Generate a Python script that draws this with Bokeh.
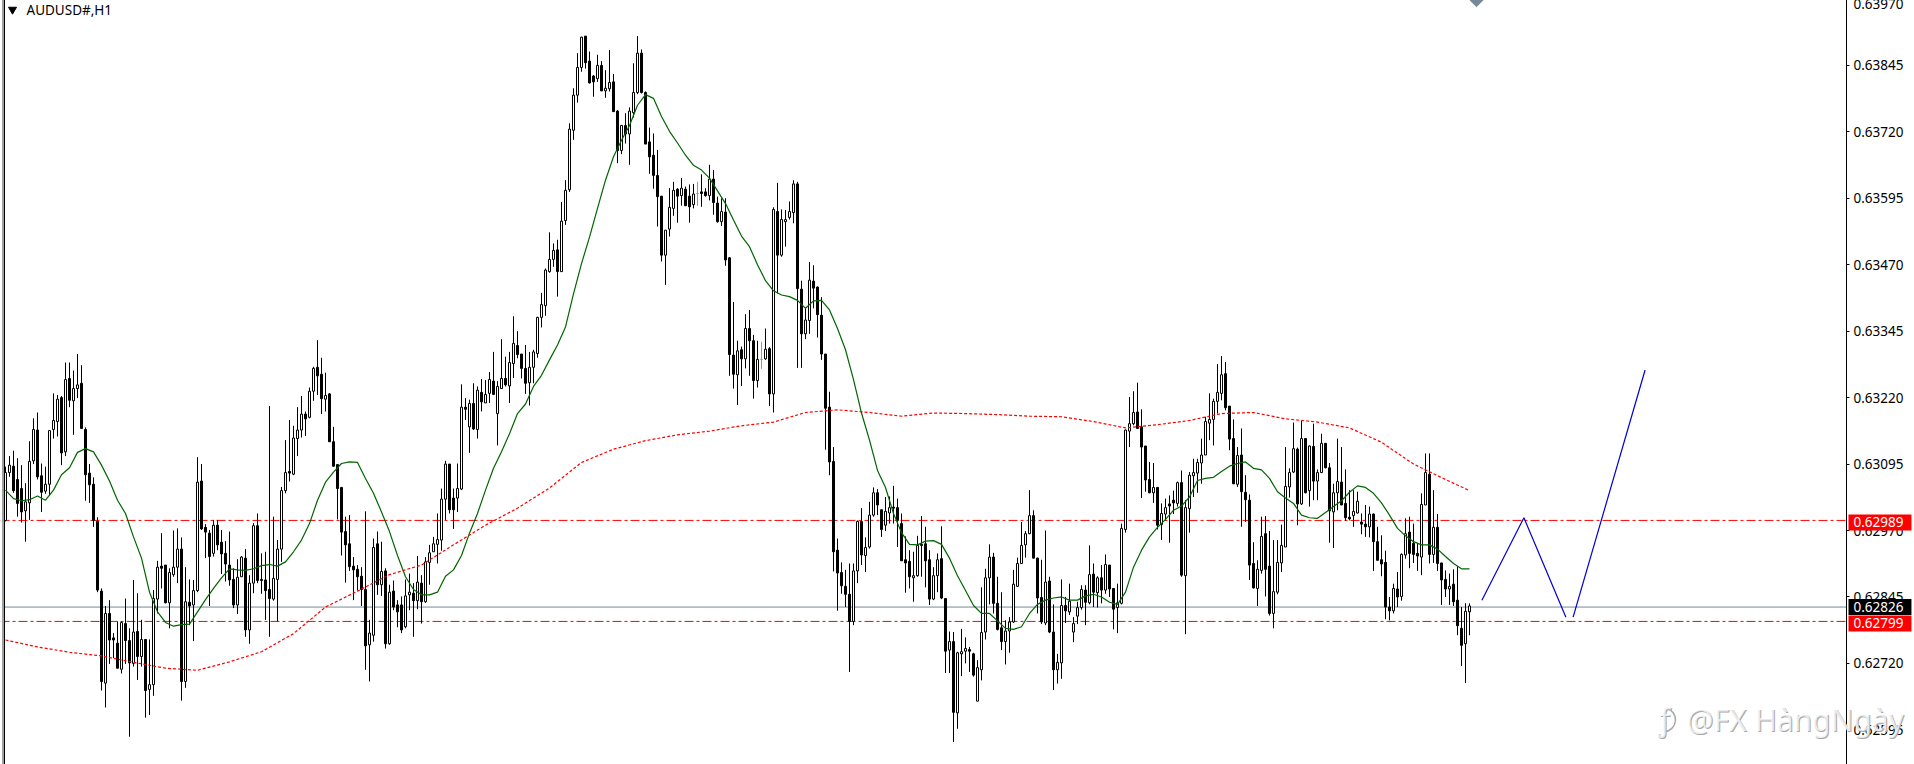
from bokeh.plotting import figure
from bokeh.layouts import column
from bokeh.models import ColumnDataSource, Range1d, FixedTicker, Span, Label, BoxAnnotation
from bokeh.embed import file_html
from bokeh.resources import INLINE

SYMBOL = "AUDUSD#,H1"
WATERMARK = "@FX HàngNgày"
POINT = 100000.0
tick_prices = [63970, 63845, 63720, 63595, 63470, 63345, 63220, 63095, 62970, 62845, 62720, 62595]
level_upper = 62989
level_lower = 62799
last_price = 62826

highs = [
63090,63110,63120,63106,63093,63059,63138,63181,63192,63096,
63090,63159,63228,63225,63223,63286,63286,63271,63302,63281,
63164,63095,63070,62995,62861,62828,62839,62777,62799,62799,
62842,62786,62877,62852,62802,62765,62765,62858,62913,62965,
62905,62899,62970,62974,62957,62901,62878,62877,63108,63095,
62982,62971,62990,62990,62971,62950,62968,62899,62916,62922,
62935,62886,62984,63002,62927,62930,63204,62996,62952,63052,
63140,63178,63167,63202,63223,63194,63239,63278,63328,63295,
63267,63228,63165,63095,63052,62996,62999,62920,62905,62901,
63006,62802,62955,62968,62949,62899,62868,62876,62839,62846,
62878,62889,62871,62922,62886,62920,62943,62958,63002,63049,
63101,63095,63049,63096,63245,63219,63216,63247,63241,63255,
63253,63268,63306,63251,63330,63297,63306,63373,63345,63302,
63319,63306,63310,63372,63417,63463,63531,63510,63517,63588,
63629,63736,63802,63868,63899,63900,63871,63827,63865,63853,
63836,63874,63829,63761,63733,63755,63766,63849,63900,63875,
63796,63728,63717,63686,63599,63535,63614,63626,63614,63633,
63617,63621,63622,63626,63640,63614,63658,63648,63598,63595,
63595,63484,63400,63327,63316,63377,63385,63338,63327,63325,
63350,63315,63578,63624,63574,63573,63589,63629,63626,63440,
63388,63475,63469,63429,63409,63302,63231,63127,62955,62910,
62896,62908,62908,62989,63012,62957,63024,63051,63048,63009,
63033,63034,63054,63030,63002,62959,62933,62930,62960,62997,
62977,62933,62901,62927,62978,62843,62780,62779,62742,62785,
62769,62751,62740,62726,62863,62898,62944,62928,62883,62854,
62801,62807,62896,62919,62986,62969,63046,63008,62919,62915,
62970,62883,62831,62738,62878,62845,62870,62807,62836,62867,
62867,62942,62908,62884,62905,62925,62905,62861,62870,62983,
63160,63221,63232,63248,63198,63129,63099,63097,63052,63021,
63030,63036,63045,63062,63083,63027,63080,63105,63105,63143,
63184,63228,63218,63283,63298,63287,63204,63179,63127,63162,
63074,63038,62948,62914,62996,62997,62969,62952,62952,62981,
63127,63087,63173,63126,63176,63144,63130,63171,63085,63152,
63134,63097,63058,63143,63127,63085,63046,63046,63043,63002,
63018,63015,63002,62977,62961,62932,62845,62870,62892,62927,
62993,62996,62983,62946,63040,63115,63115,63046,63001,62909,
62895,62889,62897,62903,62826,62833,62833]

lows = [
62987,63071,63041,62996,62985,62949,62990,63095,63066,63005,
63039,63036,63143,63147,63093,63110,63202,63150,63219,63162,
63026,63022,62977,62854,62669,62637,62719,62730,62711,62701,
62719,62582,62714,62689,62714,62618,62623,62659,62814,62861,
62833,62786,62883,62871,62650,62674,62792,62762,62854,62971,
62918,62828,62921,62933,62888,62874,62866,62824,62813,62883,
62770,62757,62852,62871,62851,62802,62770,62838,62799,62911,
63040,63062,63074,63110,63145,63148,63181,63214,63225,63189,
63194,63137,63090,62991,62923,62872,62894,62839,62857,62828,
62708,62686,62761,62849,62847,62748,62755,62820,62788,62777,
62786,62820,62770,62822,62795,62834,62868,62930,62908,62932,
62990,63002,62973,63005,63046,63178,63116,63159,63143,63194,
63210,63210,63226,63130,63237,63241,63210,63257,63294,63256,
63227,63205,63247,63295,63352,63374,63455,63466,63410,63457,
63545,63607,63705,63775,63833,63839,63811,63786,63814,63797,
63784,63796,63758,63661,63678,63698,63658,63747,63791,63792,
63697,63641,63613,63542,63476,63432,63523,63562,63549,63581,
63581,63549,63576,63581,63579,63598,63591,63564,63549,63543,
63468,63261,63237,63206,63242,63275,63261,63218,63239,63274,
63291,63204,63192,63416,63485,63504,63555,63548,63276,63276,
63330,63340,63388,63333,63291,63122,63074,62893,62819,62851,
62826,62704,62792,62871,62905,62892,62936,62996,62999,62958,
62969,62983,62983,62939,62913,62853,62861,62836,62883,62883,
62863,62830,62839,62854,62841,62702,62702,62572,62597,62696,
62720,62704,62695,62649,62688,62765,62831,62814,62782,62745,
62718,62740,62796,62864,62908,62919,62963,62918,62814,62794,
62792,62777,62670,62682,62691,62796,62811,62760,62794,62821,
62792,62831,62826,62825,62833,62851,62845,62784,62777,62831,
62966,63127,63168,63162,63031,63043,63040,63022,62972,62952,
62989,62947,63001,63015,62883,62775,62966,63033,63041,63058,
63112,63140,63130,63190,63215,63196,63121,63057,63052,62977,
62986,62877,62861,62828,62889,62846,62810,62786,62850,62892,
62939,63032,63078,62980,63018,63040,63015,63027,63027,63078,
63087,62947,62937,63008,63018,62988,62989,62977,63002,62963,
62958,62957,62894,62914,62884,62803,62801,62814,62826,62838,
62917,62899,62909,62894,62886,63018,62908,62909,62894,62830,
62845,62830,62828,62773,62715,62683,62773]

body_tops = [
63079,63093,63091,63066,63049,63024,63100,63160,63159,63073,
63057,63158,63177,63217,63220,63254,63256,63237,63244,63247,
63160,63078,63057,62987,62856,62814,62814,62768,62758,62797,
62795,62763,62779,62780,62765,62765,62680,62842,62901,62903,
62905,62891,62901,62935,62935,62836,62835,62857,63061,63063,
62976,62965,62980,62980,62948,62927,62905,62878,62882,62920,
62918,62871,62979,62979,62878,62877,62859,62880,62935,63045,
63079,63081,63144,63159,63189,63189,63232,63275,63277,63264,
63224,63227,63137,63094,63051,62968,62945,62903,62897,62884,
62859,62777,62938,62945,62893,62894,62854,62856,62830,62830,
62847,62854,62852,62873,62871,62911,62928,62945,62953,63029,
63095,63095,63031,63049,63202,63202,63209,63209,63234,63230,
63226,63254,63251,63241,63256,63256,63286,63322,63318,63302,
63275,63277,63306,63371,63395,63460,63480,63497,63498,63552,
63610,63725,63789,63841,63898,63900,63853,63825,63845,63845,
63802,63813,63814,63759,63732,63732,63759,63794,63868,63868,
63794,63701,63676,63638,63599,63535,63578,63610,63612,63614,
63612,63599,63603,63604,63607,63607,63631,63631,63586,63570,
63569,63483,63300,63308,63310,63350,63350,63327,63292,63292,
63311,63312,63574,63570,63555,63555,63570,63622,63622,63424,
63366,63441,63439,63428,63375,63302,63202,63100,62933,62891,
62865,62850,62894,62987,62987,62938,62999,63041,63041,63009,
63006,63013,63014,63013,62983,62915,62912,62885,62942,62944,
62945,62915,62885,62915,62917,62842,62761,62761,62740,62742,
62748,62746,62738,62712,62778,62881,62920,62920,62833,62787,
62781,62798,62869,62908,62942,62964,62998,62998,62918,62844,
62873,62875,62779,62722,62829,62829,62837,62795,62825,62859,
62858,62887,62888,62881,62881,62906,62905,62861,62834,62974,
63159,63171,63192,63193,63165,63129,63066,63051,63051,63002,
63013,63020,63027,63060,63060,63013,63074,63079,63098,63112,
63175,63179,63213,63230,63263,63265,63204,63143,63111,63112,
63042,63027,62908,62897,62959,62964,62903,62855,62910,62942,
63053,63079,63124,63123,63143,63143,63129,63128,63079,63134,
63134,63088,63041,63062,63061,63021,62995,63006,63025,62986,
62982,63001,63001,62949,62915,62910,62826,62861,62860,62925,
62964,62967,62946,62927,63019,63079,63076,62976,62976,62909,
62878,62865,62869,62839,62786,62818,62828]

body_bottoms = [
62989,63079,63045,63021,63005,63007,63022,63101,63071,63042,
63044,63057,63160,63175,63116,63118,63215,63214,63237,63162,
63075,63056,62989,62858,62686,62683,62764,62764,62711,62709,
62763,62721,62720,62733,62733,62669,62671,62680,62841,62899,
62834,62834,62887,62901,62686,62686,62828,62830,62857,62973,
62967,62921,62927,62943,62926,62907,62877,62830,62830,62883,
62783,62783,62871,62876,62876,62857,62842,62841,62878,62935,
63045,63078,63076,63143,63159,63180,63183,63232,63261,63218,
63217,63137,63091,63049,62967,62943,62902,62896,62883,62859,
62753,62755,62773,62868,62868,62757,62757,62826,62817,62783,
62789,62849,62838,62838,62836,62836,62910,62930,62944,62952,
63029,63009,63009,63031,63048,63198,63165,63161,63160,63212,
63210,63228,63226,63190,63237,63244,63242,63284,63301,63275,
63247,63248,63277,63303,63371,63393,63457,63480,63457,63457,
63553,63611,63723,63789,63841,63850,63812,63814,63820,63797,
63797,63801,63758,63685,63685,63716,63716,63756,63794,63794,
63697,63673,63638,63598,63488,63488,63537,63576,63599,63600,
63581,63579,63583,63604,63604,63600,63600,63587,63551,63551,
63479,63301,63264,63263,63293,63293,63327,63252,63252,63292,
63293,63227,63227,63488,63488,63551,63559,63568,63425,63340,
63340,63365,63426,63376,63302,63200,63099,62930,62890,62866,
62850,62799,62799,62894,62924,62923,62939,62999,63018,62972,
62980,63003,63012,62989,62913,62909,62883,62881,62885,62942,
62913,62841,62841,62885,62843,62743,62745,62628,62627,62738,
62743,62743,62698,62649,62708,62779,62881,62833,62784,62761,
62761,62781,62798,62865,62908,62943,62964,62918,62843,62798,
62796,62779,62708,62708,62721,62819,62817,62779,62809,62825,
62835,62834,62854,62853,62858,62858,62860,62822,62825,62833,
62972,63157,63171,63162,63127,63065,63041,63041,62980,62981,
63001,63016,63022,63021,62886,62885,63011,63073,63078,63097,
63112,63172,63179,63213,63228,63201,63142,63058,63057,63043,
63028,62905,62862,62861,62895,62897,62814,62814,62854,62909,
62939,63052,63080,63020,63020,63041,63045,63063,63063,63079,
63088,63007,63005,63041,63018,62994,62992,62998,63003,62982,
62977,62977,62949,62914,62907,62826,62819,62819,62845,62846,
62924,62927,62925,62922,62920,63018,62925,62925,62908,62877,
62860,62860,62836,62791,62754,62757,62817]

directions = (
"UUDDDUUUDD" "UUUUDUDUUD" "DDDDDUDDDU" "DDUDUDUUUD" "DUUUDUDUUD"
"DDUDDDDDUU" "DUUDDDDUUU" "UDUUUDUUDD" "UDDDDDDDDD" "DUUDUDUDDD"
"UUDUDUUUUU" "UDDUUDUDUD" "UUDUUDUUDD" "DUUUUUUUDU" "UUUUUDDDUD"
"UUDDUDUUUD" "DDDDDUUUDU" "DDUGDDUDDU" "DDDUDUDDUG" "UDUDUUUUDD"
"UUDDDDDDDD" "DDUUDUUUDD" "UUDDDDDUUD" "DDUUDDUDUU" "UDDUUUUDDD"
"UUUUUUUDDD" "UDDUUDUUUU" "DUDUDUDDUU" "UUUDDDDUDU" "UDDUDUUUUU"
"UUUUUDDDUD" "DDDUUDDUUU" "UUUDUDUDUU" "DDUUDDDUUD" "DUDDDDDUDU"
"UDDDUUDUDD" "DUDDDUU")

# Fast average: one reading every second bar
fast_ma = [
63046,63030,63026,63028,63035,63027,63046,63075,63088,63117,
63124,63118,63093,63063,63027,63002,62958,62918,62854,62817,
62797,62790,62793,62794,62817,62840,62861,62881,62898,62896,
62895,62898,62904,62906,62903,62911,62930,62952,62983,63027,
63061,63080,63096,63099,63098,63068,63040,63005,62968,62923,
62883,62859,62849,62849,62854,62884,62896,62923,62965,63002,
63046,63087,63118,63152,63190,63208,63241,63262,63291,63319,
63353,63415,63472,63522,63576,63629,63673,63704,63732,63770,
63790,63783,63749,63721,63699,63676,63657,63648,63633,63609,
63585,63554,63524,63504,63470,63440,63421,63413,63410,63403,
63388,63402,63403,63385,63350,63310,63254,63191,63140,63083,
63051,63002,62966,62944,62943,62950,62951,62944,62918,62885,
62857,62829,62814,62814,62800,62786,62784,62789,62814,62831,
62839,62843,62845,62839,62839,62847,62850,62845,62835,62831,
62854,62901,62933,62958,62976,62991,63008,63016,63033,63064,
63068,63070,63081,63091,63096,63099,63087,63084,63068,63043,
63031,63021,62999,62994,62993,63004,63015,63026,63042,63054,
63051,63040,63022,62999,62974,62960,62949,62943,62943,62935,
62921,62908,62898,62898]

slow_ma_bars = [0,8,16,24,32,40,48,56,64,72,80,88,96,104,112,120,128,136,144,152,
160,168,176,184,192,200,208,216,224,232,240,248,256,264,272,280,288,296,304,312,
320,328,336,344,352,360,366]
slow_ma = [62764,62751,62741,62734,62722,62711,62707,62723,62742,62776,62826,62856,62887,62905,62943,
62980,63012,63050,63098,63123,63139,63150,63157,63167,63174,63192,63197,63192,63185,63191,
63190,63188,63185,63184,63175,63163,63169,63177,63190,63192,63180,63174,63163,63136,63095,
63066,63045]

zigzag_a_bars = [369.1, 379.6, 390.1]
zigzag_a = [62839, 62994, 62807]
zigzag_b_bars = [391.9, 409.9]
zigzag_b = [62807, 63272]

BLACK = "#000000"
n = len(highs)
assert n == len(lows) == len(body_tops) == len(body_bottoms) == len(directions) == 367
bars = list(range(n))
stalk_colors = ["#00ff00" if d == "G" else BLACK for d in directions]
fills = ["#ffffff" if d == "U" else ("#00ff00" if d == "G" else BLACK) for d in directions]
src = ColumnDataSource(dict(
    x=bars,
    h=[v / POINT for v in highs], l=[v / POINT for v in lows],
    t=[v / POINT for v in body_tops], b=[v / POINT for v in body_bottoms],
    stalk=stalk_colors, fill=fills))

PX_PER_BAR = 4.0
X0 = -5.0 / PX_PER_BAR
Y_LOW, Y_HIGH = 62529.82 / POINT, 63970.82 / POINT
p = figure(width=1914, height=766, output_backend="svg", toolbar_location=None,
           x_axis_location=None, y_axis_location="right",
           x_range=Range1d(X0, (1846 - 5.0) / PX_PER_BAR),
           y_range=Range1d(Y_LOW, Y_HIGH),
           min_border_left=0, min_border_right=68, min_border_top=0, min_border_bottom=0,
           margin=(-2, 0, 0, 0), background_fill_alpha=0, border_fill_alpha=0, frame_align=False)
p.outline_line_color = None
p.grid.visible = False

ax = p.yaxis[0]
ax.ticker = FixedTicker(ticks=[v / POINT for v in tick_prices])
ax.major_label_overrides = {v / POINT: f"{v / POINT:.5f}" for v in tick_prices}
ax.major_tick_in = 0
ax.major_tick_out = 3
ax.minor_tick_in = 0
ax.minor_tick_out = 0
ax.axis_line_color = BLACK
ax.major_tick_line_color = BLACK
ax.major_label_text_color = BLACK
ax.major_label_text_font = "Noto Sans"
ax.major_label_text_font_size = "13.5px"
ax.major_label_standoff = 4

for val, col, dash in [(level_upper, "#ff0000", "9 3 3 3"), (level_lower, "#ff0000", "9 3 3 3"), (last_price, "#778899", "solid")]:
    p.add_layout(Span(location=val / POINT, dimension="width", line_color=col, line_width=1,
                      line_dash=dash, level="underlay"))

p.segment("x", "h", "x", "l", source=src, line_color="stalk", line_width=1)
p.vbar(x="x", width=0.5, top="t", bottom="b", source=src, fill_color="fill", line_color="stalk", line_width=1)

p.line([i * 2 for i in range(len(fast_ma))], [v / POINT for v in fast_ma], line_color="#006400", line_width=1.2)
p.line(slow_ma_bars, [v / POINT for v in slow_ma], line_color="#ff0000", line_width=1.2, line_dash="3 2")
p.line(zigzag_a_bars, [v / POINT for v in zigzag_a], line_color="#0000cd", line_width=1.2)
p.line(zigzag_b_bars, [v / POINT for v in zigzag_b], line_color="#0000cd", line_width=1.2)

p.scatter([1.75], [63950 / POINT], marker="inverted_triangle", size=8, fill_color=BLACK, line_color=BLACK)
p.scatter([367.75], [63968 / POINT], marker="square", angle=0.7854, size=9.5, fill_color="#778899", line_color="#778899")

p.add_layout(BoxAnnotation(left=0, right=1.5, left_units="screen", right_units="screen",
                           fill_color="#ffffff", fill_alpha=1, line_color=None))
p.add_layout(BoxAnnotation(left=1.5, right=4, left_units="screen", right_units="screen",
                           fill_color="#a0a0a0", fill_alpha=1, line_color=None))
p.add_layout(Span(location=4.0, location_units="screen", dimension="height", line_color=BLACK, line_width=1))

p.add_layout(Label(x=26, y=63950 / POINT, x_units="screen", text=SYMBOL, text_font="Noto Sans",
                   text_font_size="13.5px", text_color=BLACK, text_baseline="middle"))

# A transparent sheet over the whole page for what lies across the price axis
q = figure(width=1914, height=766, output_backend="svg", toolbar_location=None,
           x_axis_location=None, y_axis_location=None,
           x_range=Range1d(X0, (1914 - 5.0) / PX_PER_BAR), y_range=Range1d(Y_LOW, Y_HIGH),
           min_border_left=0, min_border_right=0, min_border_top=0, min_border_bottom=0,
           margin=(-766, 0, 0, 0), background_fill_alpha=0, border_fill_alpha=0, frame_align=False)
q.outline_line_color = None
q.grid.visible = False

WM_Y = 62614
for dx, col, alpha in [(1, "#a8a8a8", 1.0), (0, "#ffffff", 0.75)]:
    q.add_layout(Label(x=1686 + dx, y=(WM_Y - dx * 1.9) / POINT, x_units="screen", text=WATERMARK,
                       text_font="Noto Sans", text_font_size="30px", text_color=col, text_alpha=alpha,
                       text_baseline="middle"))
    q.add_layout(Label(x=1657 + dx, y=(WM_Y - dx * 1.9) / POINT, x_units="screen", text="ƒ",
                       text_font="Noto Sans", text_font_size="30px", text_color=col, text_alpha=alpha,
                       text_baseline="middle"))
q.arc(x=[(1663 - 5.0) / PX_PER_BAR], y=[WM_Y / POINT], radius=12, radius_units="screen",
      start_angle=-1.5, end_angle=1.3, line_color="#a8a8a8", line_width=1.5)

for val, bg, drop in [(level_upper, "#ff0000", 2), (level_lower, "#ff0000", 2), (last_price, BLACK, 0)]:
    q.add_layout(Label(x=1848, y=(val - drop * 1.88) / POINT, x_units="screen", text=f"{val / POINT:.5f}",
                       text_font="Noto Sans", text_font_size="13.5px", text_color="#ffffff",
                       text_baseline="middle", background_fill_color=bg, background_fill_alpha=1,
                       padding=(5, 8, 3, 3)))

open("out.html", "w").write(file_html(column(p, q, spacing=0), INLINE))
